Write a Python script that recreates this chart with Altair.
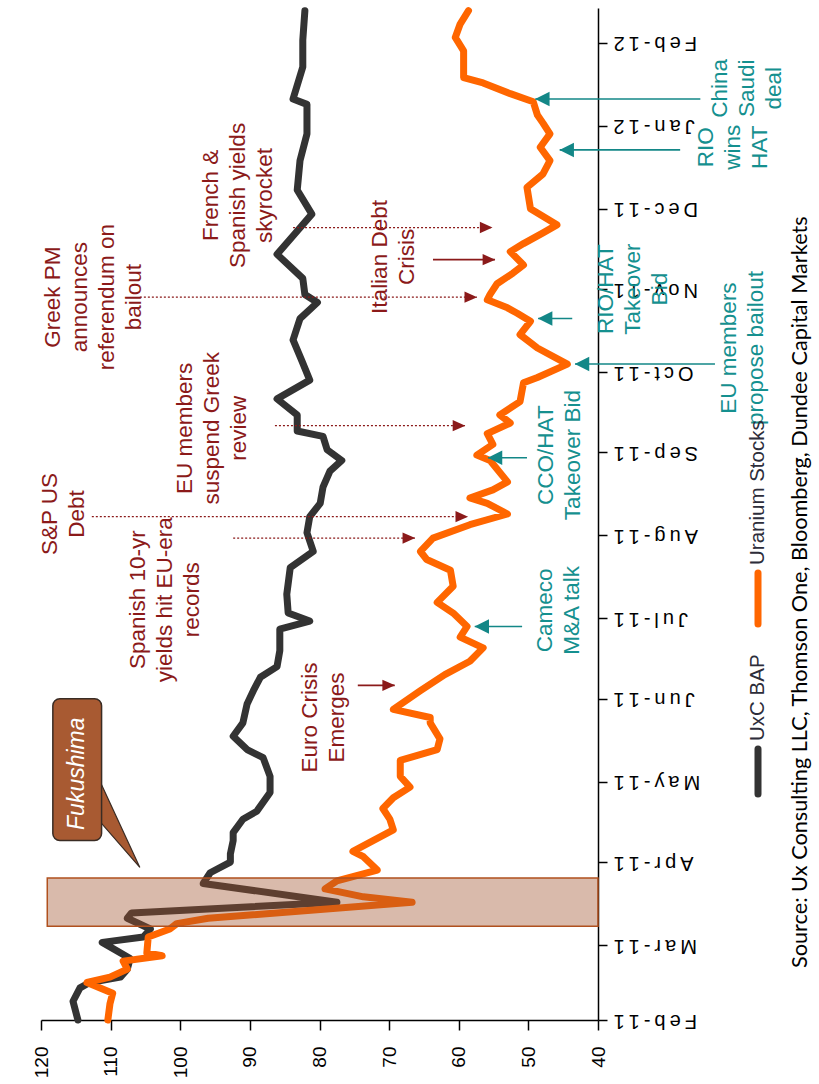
import altair as alt

# ---------------------------------------------------------------------------
# Series: UxC Broker Average Price vs. uranium equities (rebased)
# ---------------------------------------------------------------------------
bap_dates = [
    "2011-02-01", "2011-02-08", "2011-02-13", "2011-02-15", "2011-02-17", "2011-02-20",
    "2011-02-24", "2011-03-02", "2011-03-04", "2011-03-07", "2011-03-11", "2011-03-13",
    "2011-03-17", "2011-03-24", "2011-03-28", "2011-04-01", "2011-04-04", "2011-04-09",
    "2011-04-12", "2011-04-17", "2011-04-20", "2011-04-27", "2011-05-03", "2011-05-10",
    "2011-05-13", "2011-05-18", "2011-05-23", "2011-05-30", "2011-06-04", "2011-06-09",
    "2011-06-13", "2011-06-19", "2011-06-27", "2011-06-30", "2011-07-03", "2011-07-10",
    "2011-07-20", "2011-07-26", "2011-08-02", "2011-08-08", "2011-08-13", "2011-08-19",
    "2011-08-25", "2011-08-29", "2011-09-02", "2011-09-07", "2011-09-09", "2011-09-15",
    "2011-09-21", "2011-09-28", "2011-10-05", "2011-10-13", "2011-10-21", "2011-10-27",
    "2011-10-30", "2011-11-05", "2011-11-14", "2011-11-23", "2011-11-29", "2011-12-08",
    "2011-12-19", "2011-12-29", "2012-01-09", "2012-01-11", "2012-01-23", "2012-02-02",
    "2012-02-13",
]
bap_values = [
    114.7, 115.4, 114.4, 113.0, 108.6, 107.6,
    107.2, 111.2, 105.3, 104.3, 107.6, 107.0,
    77.5, 96.7, 95.7, 92.8, 92.8, 92.4,
    92.4, 91.0, 89.0, 87.1, 87.1, 88.1,
    90.4, 92.4, 91.0, 90.4, 89.5, 88.5,
    86.1, 85.7, 85.7, 81.4, 84.5, 84.7,
    84.2, 80.9, 81.8, 81.4, 79.9, 79.5,
    78.5, 76.8, 78.9, 79.5, 83.2, 83.2,
    86.1, 81.4, 82.5, 83.8, 82.8, 80.3,
    82.1, 82.4, 86.1, 83.1, 81.1, 83.2,
    82.8, 81.8, 81.8, 83.8, 82.4, 82.4,
    82.1,
]

stock_dates = [
    "2011-02-01", "2011-02-07", "2011-02-11", "2011-02-15", "2011-02-17", "2011-02-20",
    "2011-02-23", "2011-02-25", "2011-02-26", "2011-03-04", "2011-03-07", "2011-03-09",
    "2011-03-11", "2011-03-17", "2011-03-19", "2011-03-22", "2011-03-25", "2011-03-29",
    "2011-04-03", "2011-04-05", "2011-04-09", "2011-04-13", "2011-04-17", "2011-04-21",
    "2011-04-25", "2011-04-29", "2011-05-03", "2011-05-09", "2011-05-13", "2011-05-17",
    "2011-05-23", "2011-05-25", "2011-05-28", "2011-06-04", "2011-06-10", "2011-06-15",
    "2011-06-20", "2011-06-24", "2011-06-28", "2011-07-03", "2011-07-07", "2011-07-13",
    "2011-07-19", "2011-07-23", "2011-07-26", "2011-07-31", "2011-08-05", "2011-08-09",
    "2011-08-13", "2011-08-15", "2011-08-18", "2011-08-21", "2011-08-29", "2011-08-31",
    "2011-09-04", "2011-09-08", "2011-09-12", "2011-09-15", "2011-09-20", "2011-09-27",
    "2011-09-29", "2011-10-04", "2011-10-10", "2011-10-15", "2011-10-20", "2011-10-23",
    "2011-10-25", "2011-10-28", "2011-10-30", "2011-11-03", "2011-11-07", "2011-11-10",
    "2011-11-15", "2011-11-18", "2011-11-22", "2011-11-25", "2011-12-01", "2011-12-09",
    "2011-12-14", "2011-12-19", "2011-12-24", "2011-12-29", "2012-01-02", "2012-01-05",
    "2012-01-10", "2012-01-13", "2012-01-17", "2012-01-19", "2012-01-29", "2012-02-03",
    "2012-02-08", "2012-02-13",
]
stock_values = [
    110.4, 110.1, 109.7, 113.4, 110.1, 107.6,
    108.2, 102.6, 104.8, 104.6, 101.5, 100.5,
    96.0, 66.7, 73.7, 79.2, 77.5, 71.7,
    73.7, 75.2, 72.3, 69.4, 69.9, 70.9,
    69.4, 67.0, 68.4, 68.4, 63.1, 62.7,
    64.1, 64.1, 69.4, 65.5, 62.0, 58.4,
    56.5, 59.8, 58.8, 60.8, 63.1, 60.8,
    61.2, 64.6, 65.5, 63.7, 58.4, 53.0,
    55.9, 58.4, 55.1, 53.0, 55.5, 57.4,
    55.1, 55.9, 52.6, 54.1, 51.2, 50.7,
    48.7, 44.4, 48.7, 51.2, 49.7, 51.6,
    53.0, 55.9, 55.5, 54.5, 52.2, 50.7,
    52.6, 50.7, 47.9, 45.9, 49.7, 50.2,
    47.9, 46.9, 48.3, 46.9, 47.9, 48.7,
    49.3, 52.6, 56.5, 59.3, 59.3, 60.5,
    59.8, 58.6,
]

series_names = ["UxC BAP", "Uranium Stocks"]

# ---------------------------------------------------------------------------
# Axis ticks
# ---------------------------------------------------------------------------
value_ticks = [40, 50, 60, 70, 80, 90, 100, 110, 120]
month_ticks = [(2011, m) for m in range(2, 13)] + [(2012, 1), (2012, 2)]

# ---------------------------------------------------------------------------
# Event annotations (block centres in date / value space)
# ---------------------------------------------------------------------------
macro_labels = [
    ["S&P US", "Debt"],
    ["Spanish 10-yr", "yields hit EU-era", "records"],
    ["EU members", "suspend Greek", "review"],
    ["Greek PM", "announces", "referendum on", "bailout"],
    ["French &", "Spanish yields", "skyrocket"],
    ["Italian Debt", "Crisis"],
    ["Euro Crisis", "Emerges"],
]
macro_label_dates = ["2011-08-09", "2011-07-08", "2011-09-10", "2011-10-29",
                     "2011-12-06", "2011-11-13", "2011-05-25"]
macro_label_values = [116.7, 102.2, 95.4, 112.4, 91.7, 69.4, 79.4]

sector_labels = [
    ["Cameco", "M&A talk"],
    ["CCO/HAT", "Takeover Bid"],
    ["RIO/HAT", "Takeover", "Bid"],
    ["EU members", "propose bailout"],
    ["RIO", "wins", "HAT"],
    ["China", "Saudi", "deal"],
]
sector_label_dates = ["2011-07-04", "2011-08-31", "2011-11-01", "2011-10-10",
                      "2011-12-24", "2012-01-15"]
sector_label_values = [45.7, 45.6, 35.0, 19.2, 20.6, 18.6]

# dotted macro pointers
macro_dotted_dates = ["2011-08-08", "2011-07-31", "2011-09-11", "2011-10-29", "2011-11-24"]
macro_dotted_from = [112.7, 92.4, 86.4, 105.8, 83.8]
macro_dotted_to = [58.7, 66.3, 59.1, 57.4, 55.2]
# solid macro pointers
macro_solid_dates = ["2011-11-12", "2011-06-06"]
macro_solid_from = [63.7, 74.5]
macro_solid_to = [54.8, 69.2]
# sector pointers
sector_arrow_dates = ["2011-06-28", "2011-08-30", "2011-10-04", "2011-10-21",
                      "2011-12-23", "2012-01-11"]
sector_arrow_from = [50.9, 50.2, 23.2, 43.7, 28.2, 25.3]
sector_arrow_to = [57.7, 55.8, 43.3, 48.6, 45.5, 49.0]

# Fukushima shock window and call-out
shock_start, shock_end = "2011-03-08", "2011-03-26"
shock_value_lo, shock_value_hi = 40, 119.1
callout_dates = ("2011-04-09", "2011-06-01")
callout_values = (118.3, 111.3)
callout_text_date, callout_text_value = "2011-05-04", 114.8
pointer_base_value, pointer_base_dates = 111.5, ("2011-04-16", "2011-05-01")
pointer_tip_value, pointer_tip_date = 105.8, "2011-03-30"

source_note = "Source: Ux Consulting LLC, Thomson One, Bloomberg, Dundee Capital Markets"

# ---------------------------------------------------------------------------
FONT = "Liberation Sans, Arial, sans-serif"
MAROON = "#8B1A1A"
TEAL = "#15908F"
TEAL_LINE = "#138787"
BLACK_LINE = "#333333"
ORANGE_LINE = "#FF6600"

PLOT_W, PLOT_H = 557, 1012
X_MIN, X_MAX = 40, 120
PX_PER_UNIT = PLOT_W / (X_MAX - X_MIN)
LINE_H = 27
NOTE_SIZE = 22.5


def day(s):
    return s + "T00:00:00"


def rows(**cols):
    keys = list(cols)
    n = len(cols[keys[0]])
    return alt.Data(values=[{k: cols[k][i] for k in keys} for i in range(n)])


def first_line_anchor(centre_value, lines):
    # rotated multi-line text grows to the right from its first line
    return centre_value + (len(lines) - 1) * LINE_H / 2 / PX_PER_UNIT


x_scale = alt.Scale(domain=[X_MIN, X_MAX], reverse=True, nice=False, zero=False)
y_scale = alt.Scale(
    domain=[alt.DateTime(year=2011, month=2, date=1),
            alt.DateTime(year=2012, month=2, date=14)],
    nice=False,
)

x_axis = alt.Axis(
    orient="bottom", values=value_ticks, labelAngle=270, labelAlign="right",
    labelBaseline="middle", labelFont=FONT, labelFontSize=19, labelColor="black",
    labelPadding=16, labelFlush=False, labelOverlap=False, tickSize=10,
    tickColor="black", tickWidth=1.5, domainColor="black", domainWidth=1.5,
    grid=False, title=None,
)
y_axis = alt.Axis(
    orient="right",
    values=[alt.DateTime(year=y, month=m, date=1) for y, m in month_ticks],
    labelExpr="replace(timeFormat(datum.value, '%b-%y'), regexp('(.)(?!$)', 'g'), '$1\u2009')",
    labelAngle=180, labelAlign="right", labelBaseline="middle", labelFont=FONT,
    labelFontSize=20, labelColor="black", labelPadding=6, labelOverlap=False,
    labelFlush=False, tickSize=9, tickColor="black", tickWidth=1.5,
    domainColor="black", domainWidth=1.5, grid=False, title=None,
)


def X(field):
    return alt.X(field=field, type="quantitative", scale=x_scale, axis=x_axis)


def Y(field):
    return alt.Y(field=field, type="temporal", scale=y_scale, axis=y_axis)


def series_layer(dates, values, color):
    data = rows(date=[day(d) for d in dates], value=values)
    return alt.Chart(data).mark_line(
        color=color, strokeWidth=7, strokeJoin="round", strokeCap="round"
    ).encode(x=X("value"), y=Y("date"), order=alt.Order("date:T"))


bap_line = series_layer(bap_dates, bap_values, BLACK_LINE)
stock_line = series_layer(stock_dates, stock_values, ORANGE_LINE)

shock_band = alt.Chart(
    rows(v1=[shock_value_hi], v2=[shock_value_lo], d1=[day(shock_start)], d2=[day(shock_end)])
).mark_rect(fill="#A0522D", fillOpacity=0.4, stroke="#B0501E", strokeWidth=1.5).encode(
    x=X("v1"), x2=alt.X2("v2"), y=Y("d1"), y2=alt.Y2("d2")
)

pointer = alt.Chart(
    rows(v=[pointer_base_value, pointer_tip_value],
         d1=[day(pointer_base_dates[1]), day(pointer_tip_date)],
         d2=[day(pointer_base_dates[0]), day(pointer_tip_date)])
).mark_area(orient="vertical", fill="#A85A32", stroke="#3A2C24", strokeWidth=1.2).encode(
    x=X("v"), y=Y("d1"), y2=alt.Y2("d2")
)

callout_box = alt.Chart(
    rows(v1=[callout_values[0]], v2=[callout_values[1]],
         d1=[day(callout_dates[0])], d2=[day(callout_dates[1])])
).mark_rect(fill="#A85A32", stroke="#3A2C24", strokeWidth=1.5, cornerRadius=7).encode(
    x=X("v1"), x2=alt.X2("v2"), y=Y("d1"), y2=alt.Y2("d2")
)

callout_text = alt.Chart(
    rows(v=[callout_text_value], d=[day(callout_text_date)], t=["Fukushima"])
).mark_text(angle=270, font=FONT, fontSize=23, fontStyle="italic", color="white",
            align="center", baseline="middle").encode(
    x=X("v"), y=Y("d"), text="t:N"
)

RIGHT_HEAD = "M-1,-0.9L1,0L-1,0.9Z"
LEFT_HEAD = "M1,-1L-1,0L1,1Z"

macro_dotted = alt.Chart(
    rows(d=[day(s) for s in macro_dotted_dates], a=macro_dotted_from, b=macro_dotted_to)
).mark_rule(color=MAROON, strokeWidth=1.3, strokeDash=[2, 2]).encode(
    x=X("a"), x2=alt.X2("b"), y=Y("d")
)
macro_solid = alt.Chart(
    rows(d=[day(s) for s in macro_solid_dates], a=macro_solid_from, b=macro_solid_to)
).mark_rule(color=MAROON, strokeWidth=1.8).encode(
    x=X("a"), x2=alt.X2("b"), y=Y("d")
)
macro_heads = alt.Chart(
    rows(d=[day(s) for s in macro_dotted_dates + macro_solid_dates],
         b=macro_dotted_to + macro_solid_to)
).mark_point(shape=RIGHT_HEAD, filled=True, size=160, color=MAROON, opacity=1,
             xOffset=-6).encode(
    x=X("b"), y=Y("d")
)

sector_rules = alt.Chart(
    rows(d=[day(s) for s in sector_arrow_dates], a=sector_arrow_from, b=sector_arrow_to)
).mark_rule(color=TEAL_LINE, strokeWidth=1.6).encode(
    x=X("a"), x2=alt.X2("b"), y=Y("d")
)
sector_heads = alt.Chart(
    rows(d=[day(s) for s in sector_arrow_dates], b=sector_arrow_to)
).mark_point(shape=LEFT_HEAD, filled=True, size=210, color=TEAL_LINE, opacity=1,
             xOffset=7).encode(
    x=X("b"), y=Y("d")
)


def note_layer(dates, values, labels, color):
    data = rows(d=[day(s) for s in dates],
                v=[first_line_anchor(v, t) for v, t in zip(values, labels)],
                t=labels)
    return alt.Chart(data).mark_text(
        angle=270, font=FONT, fontSize=NOTE_SIZE, lineHeight=LINE_H, color=color,
        align="center", baseline="middle"
    ).encode(x=X("v"), y=Y("d"), text="t:N")


macro_text = note_layer(macro_label_dates, macro_label_values, macro_labels, MAROON)
sector_text = note_layer(sector_label_dates, sector_label_values, sector_labels, TEAL)

# Hand-drawn legend (rotated with the rest of the figure)
one = alt.Data(values=[{"k": 0}])
legend_bap_key = alt.Chart(one).mark_rule(color=BLACK_LINE, strokeWidth=7, strokeCap="round").encode(
    x=alt.value(717), y=alt.value(741), y2=alt.value(786))
legend_stock_key = alt.Chart(one).mark_rule(color=ORANGE_LINE, strokeWidth=7, strokeCap="round").encode(
    x=alt.value(717), y=alt.value(565), y2=alt.value(616))
legend_bap_text = alt.Chart(one).mark_text(
    angle=270, font=FONT, fontSize=20.5, color="#2D2D3A", align="left", baseline="middle"
).encode(x=alt.value(717), y=alt.value(733), text=alt.value(series_names[0]))
legend_stock_text = alt.Chart(one).mark_text(
    angle=270, font=FONT, fontSize=20.5, color="#2D2D3A", align="left", baseline="middle"
).encode(x=alt.value(717), y=alt.value(557), text=alt.value(series_names[1]))

source_text = alt.Chart(one).mark_text(
    angle=270, font="Lato, Open Sans, sans-serif", fontSize=21.7, color="black",
    align="left", baseline="middle"
).encode(x=alt.value(759), y=alt.value(960), text=alt.value(source_note))

chart = alt.layer(
    bap_line, stock_line, shock_band, pointer, callout_box, callout_text,
    macro_dotted, macro_solid, macro_heads, sector_rules, sector_heads,
    macro_text, sector_text,
    legend_bap_key, legend_stock_key, legend_bap_text, legend_stock_text, source_text,
).properties(
    width=PLOT_W,
    height=PLOT_H,
    padding={"left": 41, "top": 8, "right": 221, "bottom": 64},
    autosize=alt.AutoSizeParams(type="none"),
    background="white",
).configure_view(stroke=None)

chart.save("out.html", embed_options={"renderer": "svg", "actions": False})
